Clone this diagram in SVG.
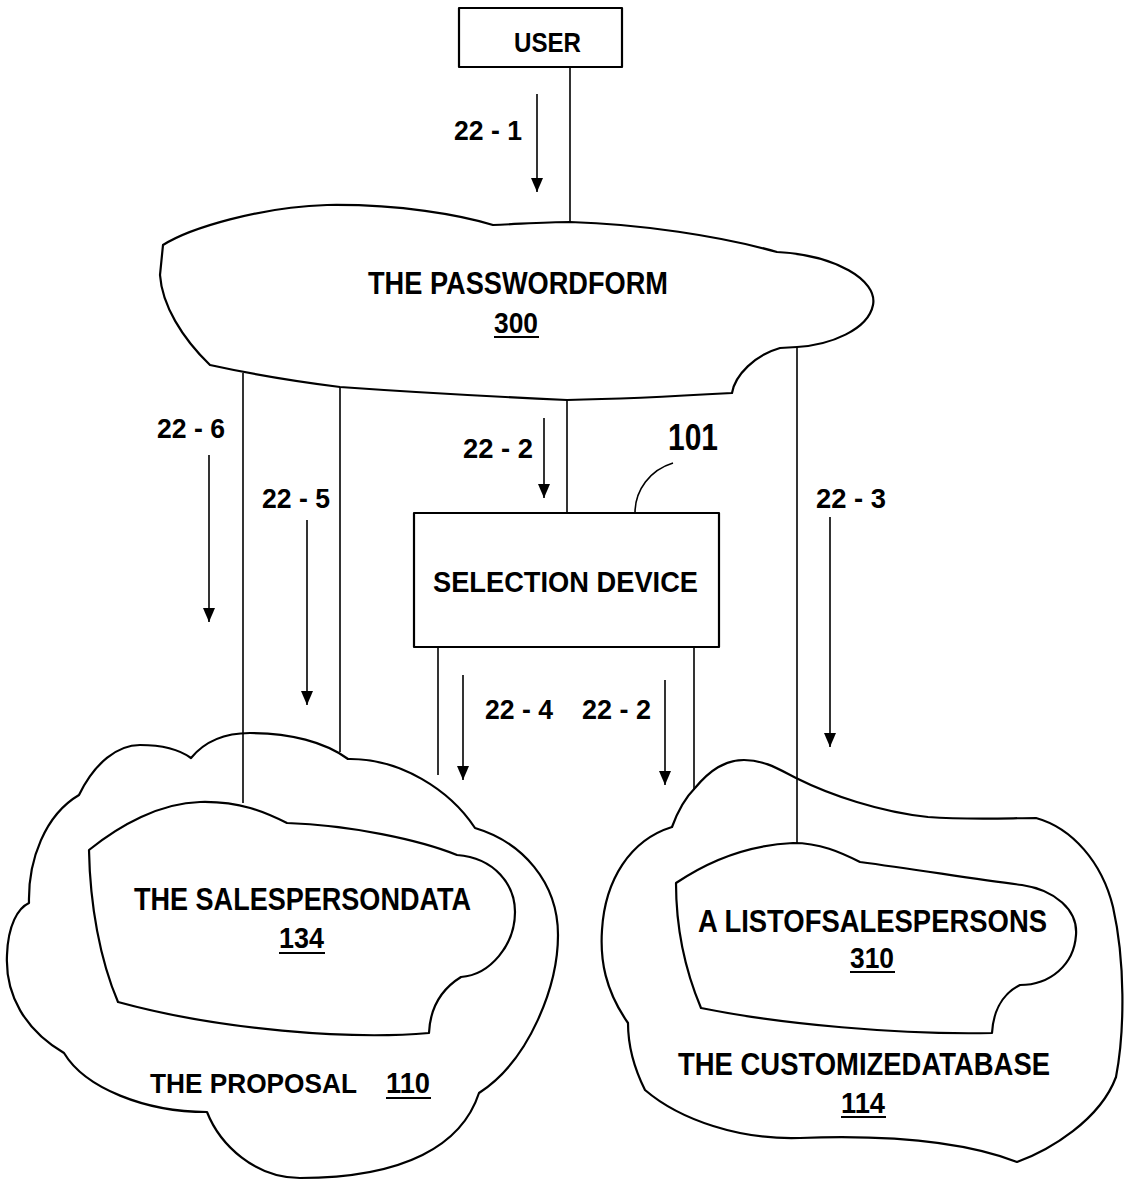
<svg xmlns="http://www.w3.org/2000/svg" width="1126" height="1180" viewBox="0 0 1126 1180">
<style>
.sh{fill:none;stroke:#000;stroke-width:2.2;stroke-linejoin:round}
.ln{fill:none;stroke:#000;stroke-width:1.6}
.ar{fill:none;stroke:#000;stroke-width:1.6;marker-end:url(#ah)}
.t{font-family:"Liberation Sans",Arial,sans-serif;font-weight:bold;fill:#000}
.ul{stroke:#000;stroke-width:2}
</style>
<defs>
<marker id="ah" markerUnits="userSpaceOnUse" markerWidth="14" markerHeight="12" refX="14" refY="6" orient="auto" viewBox="0 0 14 12">
<path d="M0,0 L14,6 L0,12 Z" fill="#000"/>
</marker>
</defs>
<rect width="1126" height="1180" fill="#fff"/>
<g id="connectors">
<line class="ln" x1="570" y1="67" x2="570" y2="222"/>
<line class="ln" x1="243" y1="373" x2="243" y2="803"/>
<line class="ln" x1="340" y1="387" x2="340" y2="752"/>
<line class="ln" x1="567" y1="400" x2="567" y2="514"/>
<line class="ln" x1="797" y1="347" x2="797" y2="843"/>
<line class="ln" x1="438" y1="647" x2="438" y2="775"/>
<line class="ln" x1="694" y1="647" x2="694" y2="790"/>
<path class="ln" d="M635,513 C635,490 650,470 673,463"/>
<line class="ar" x1="537" y1="94" x2="537" y2="192"/>
<line class="ar" x1="209" y1="455" x2="209" y2="622"/>
<line class="ar" x1="307" y1="520" x2="307" y2="705"/>
<line class="ar" x1="544" y1="418" x2="544" y2="498"/>
<line class="ar" x1="830" y1="517" x2="830" y2="747"/>
<line class="ar" x1="463" y1="675" x2="463" y2="780"/>
<line class="ar" x1="665" y1="680" x2="665" y2="785"/>
<text class="t" x="454" y="140" font-size="28" textLength="68" lengthAdjust="spacingAndGlyphs">22 - 1</text>
<text class="t" x="157" y="438" font-size="28" textLength="68" lengthAdjust="spacingAndGlyphs">22 - 6</text>
<text class="t" x="262" y="508" font-size="28" textLength="68" lengthAdjust="spacingAndGlyphs">22 - 5</text>
<text class="t" x="463" y="458" font-size="28" textLength="70" lengthAdjust="spacingAndGlyphs">22 - 2</text>
<text class="t" x="816" y="508" font-size="28" textLength="70" lengthAdjust="spacingAndGlyphs">22 - 3</text>
<text class="t" x="485" y="719" font-size="28" textLength="68" lengthAdjust="spacingAndGlyphs">22 - 4</text>
<text class="t" x="582" y="719" font-size="28" textLength="69" lengthAdjust="spacingAndGlyphs">22 - 2</text>
<text class="t" x="668" y="450" font-size="36" textLength="50" lengthAdjust="spacingAndGlyphs">101</text>
</g>
<g id="user">
<rect class="sh" x="459" y="8" width="163" height="59"/>
<text class="t" x="514" y="52" font-size="28" textLength="67" lengthAdjust="spacingAndGlyphs">USER</text>
</g>
<g id="passwordform">
<path class="sh" d="M163,245 C190,228 260,207 327,205 C400,204 460,215 493,225 C520,224 545,222 570,222 C640,224 720,236 777,252 C835,255 878,280 873,305 C868,330 830,345 797,347 L780,348 C755,355 735,375 732,393 C680,396 620,399 567,400 C480,396 410,392 340,387 C300,382 260,376 210,365 C182,338 162,305 160,275 Z"/>
<text class="t" x="368" y="294" font-size="31" textLength="300" lengthAdjust="spacingAndGlyphs">THE PASSWORDFORM</text>
<text class="t" x="494" y="333" font-size="30" textLength="44" lengthAdjust="spacingAndGlyphs">300</text>
<line class="ul" x1="494" y1="337" x2="539" y2="337"/>
</g>
<g id="selectiondevice">
<rect class="sh" x="414" y="513" width="305" height="134"/>
<text class="t" x="433" y="592" font-size="29" textLength="265" lengthAdjust="spacingAndGlyphs">SELECTION DEVICE</text>
</g>
<g id="proposal">
<path class="sh" d="M79,795 C95,762 118,745 140,745 C162,745 180,750 191,758 C205,741 225,733 250,733 C290,733 325,742 348,759 C400,758 450,790 475,828 C522,842 558,882 558,935 C558,985 530,1060 479,1093 C462,1145 405,1178 300,1178 C255,1178 220,1145 207,1112 C145,1112 85,1088 64,1053 C25,1030 5,995 7,955 C8,925 18,908 29,903 C28,860 45,815 79,795 Z"/>
<text class="t" x="150" y="1093" font-size="28" textLength="207" lengthAdjust="spacingAndGlyphs">THE PROPOSAL</text>
<text class="t" x="386" y="1093" font-size="30" textLength="44" lengthAdjust="spacingAndGlyphs">110</text>
<line class="ul" x1="386" y1="1098" x2="431" y2="1098"/>
</g>
<g id="salespersondata">
<path class="sh" d="M89,850 C120,825 160,803 200,802 C240,801 265,812 287,823 C350,825 420,840 457,855 C495,858 515,885 515,912 C515,945 490,975 461,977 C440,990 430,1010 429,1033 C350,1040 220,1030 118,1002 C100,960 90,905 89,850 Z"/>
<text class="t" x="134" y="910" font-size="31" textLength="337" lengthAdjust="spacingAndGlyphs">THE SALESPERSONDATA</text>
<text class="t" x="279" y="948" font-size="30" textLength="45" lengthAdjust="spacingAndGlyphs">134</text>
<line class="ul" x1="279" y1="953" x2="325" y2="953"/>
</g>
<g id="customizedatabase">
<path class="sh" d="M672,827 C680,805 688,795 695,788 C710,770 725,760 744,760 C765,760 780,770 796,778 C830,795 880,812 928,817 C970,820 1010,818 1036,818 C1072,828 1102,862 1113,907 C1125,960 1125,1030 1116,1077 C1100,1120 1050,1150 1017,1162 C960,1140 880,1135 800,1138 C740,1140 680,1120 645,1090 C635,1070 628,1045 628,1023 C605,990 600,960 602,930 C605,880 630,840 672,827 Z"/>
<text class="t" x="678" y="1075" font-size="31" textLength="372" lengthAdjust="spacingAndGlyphs">THE CUSTOMIZEDATABASE</text>
<text class="t" x="841" y="1113" font-size="30" textLength="44" lengthAdjust="spacingAndGlyphs">114</text>
<line class="ul" x1="841" y1="1117" x2="886" y2="1117"/>
</g>
<g id="listofsalespersons">
<path class="sh" d="M676,883 C710,860 750,845 793,843 C820,843 840,852 860,862 C920,870 980,880 1022,885 C1055,890 1078,910 1076,935 C1074,965 1050,985 1020,985 C1000,995 993,1015 992,1033 C900,1035 780,1024 701,1008 C685,970 676,930 676,883 Z"/>
<text class="t" x="698" y="932" font-size="31" textLength="349" lengthAdjust="spacingAndGlyphs">A LISTOFSALESPERSONS</text>
<text class="t" x="850" y="968" font-size="30" textLength="44" lengthAdjust="spacingAndGlyphs">310</text>
<line class="ul" x1="850" y1="972" x2="895" y2="972"/>
</g>
</svg>
